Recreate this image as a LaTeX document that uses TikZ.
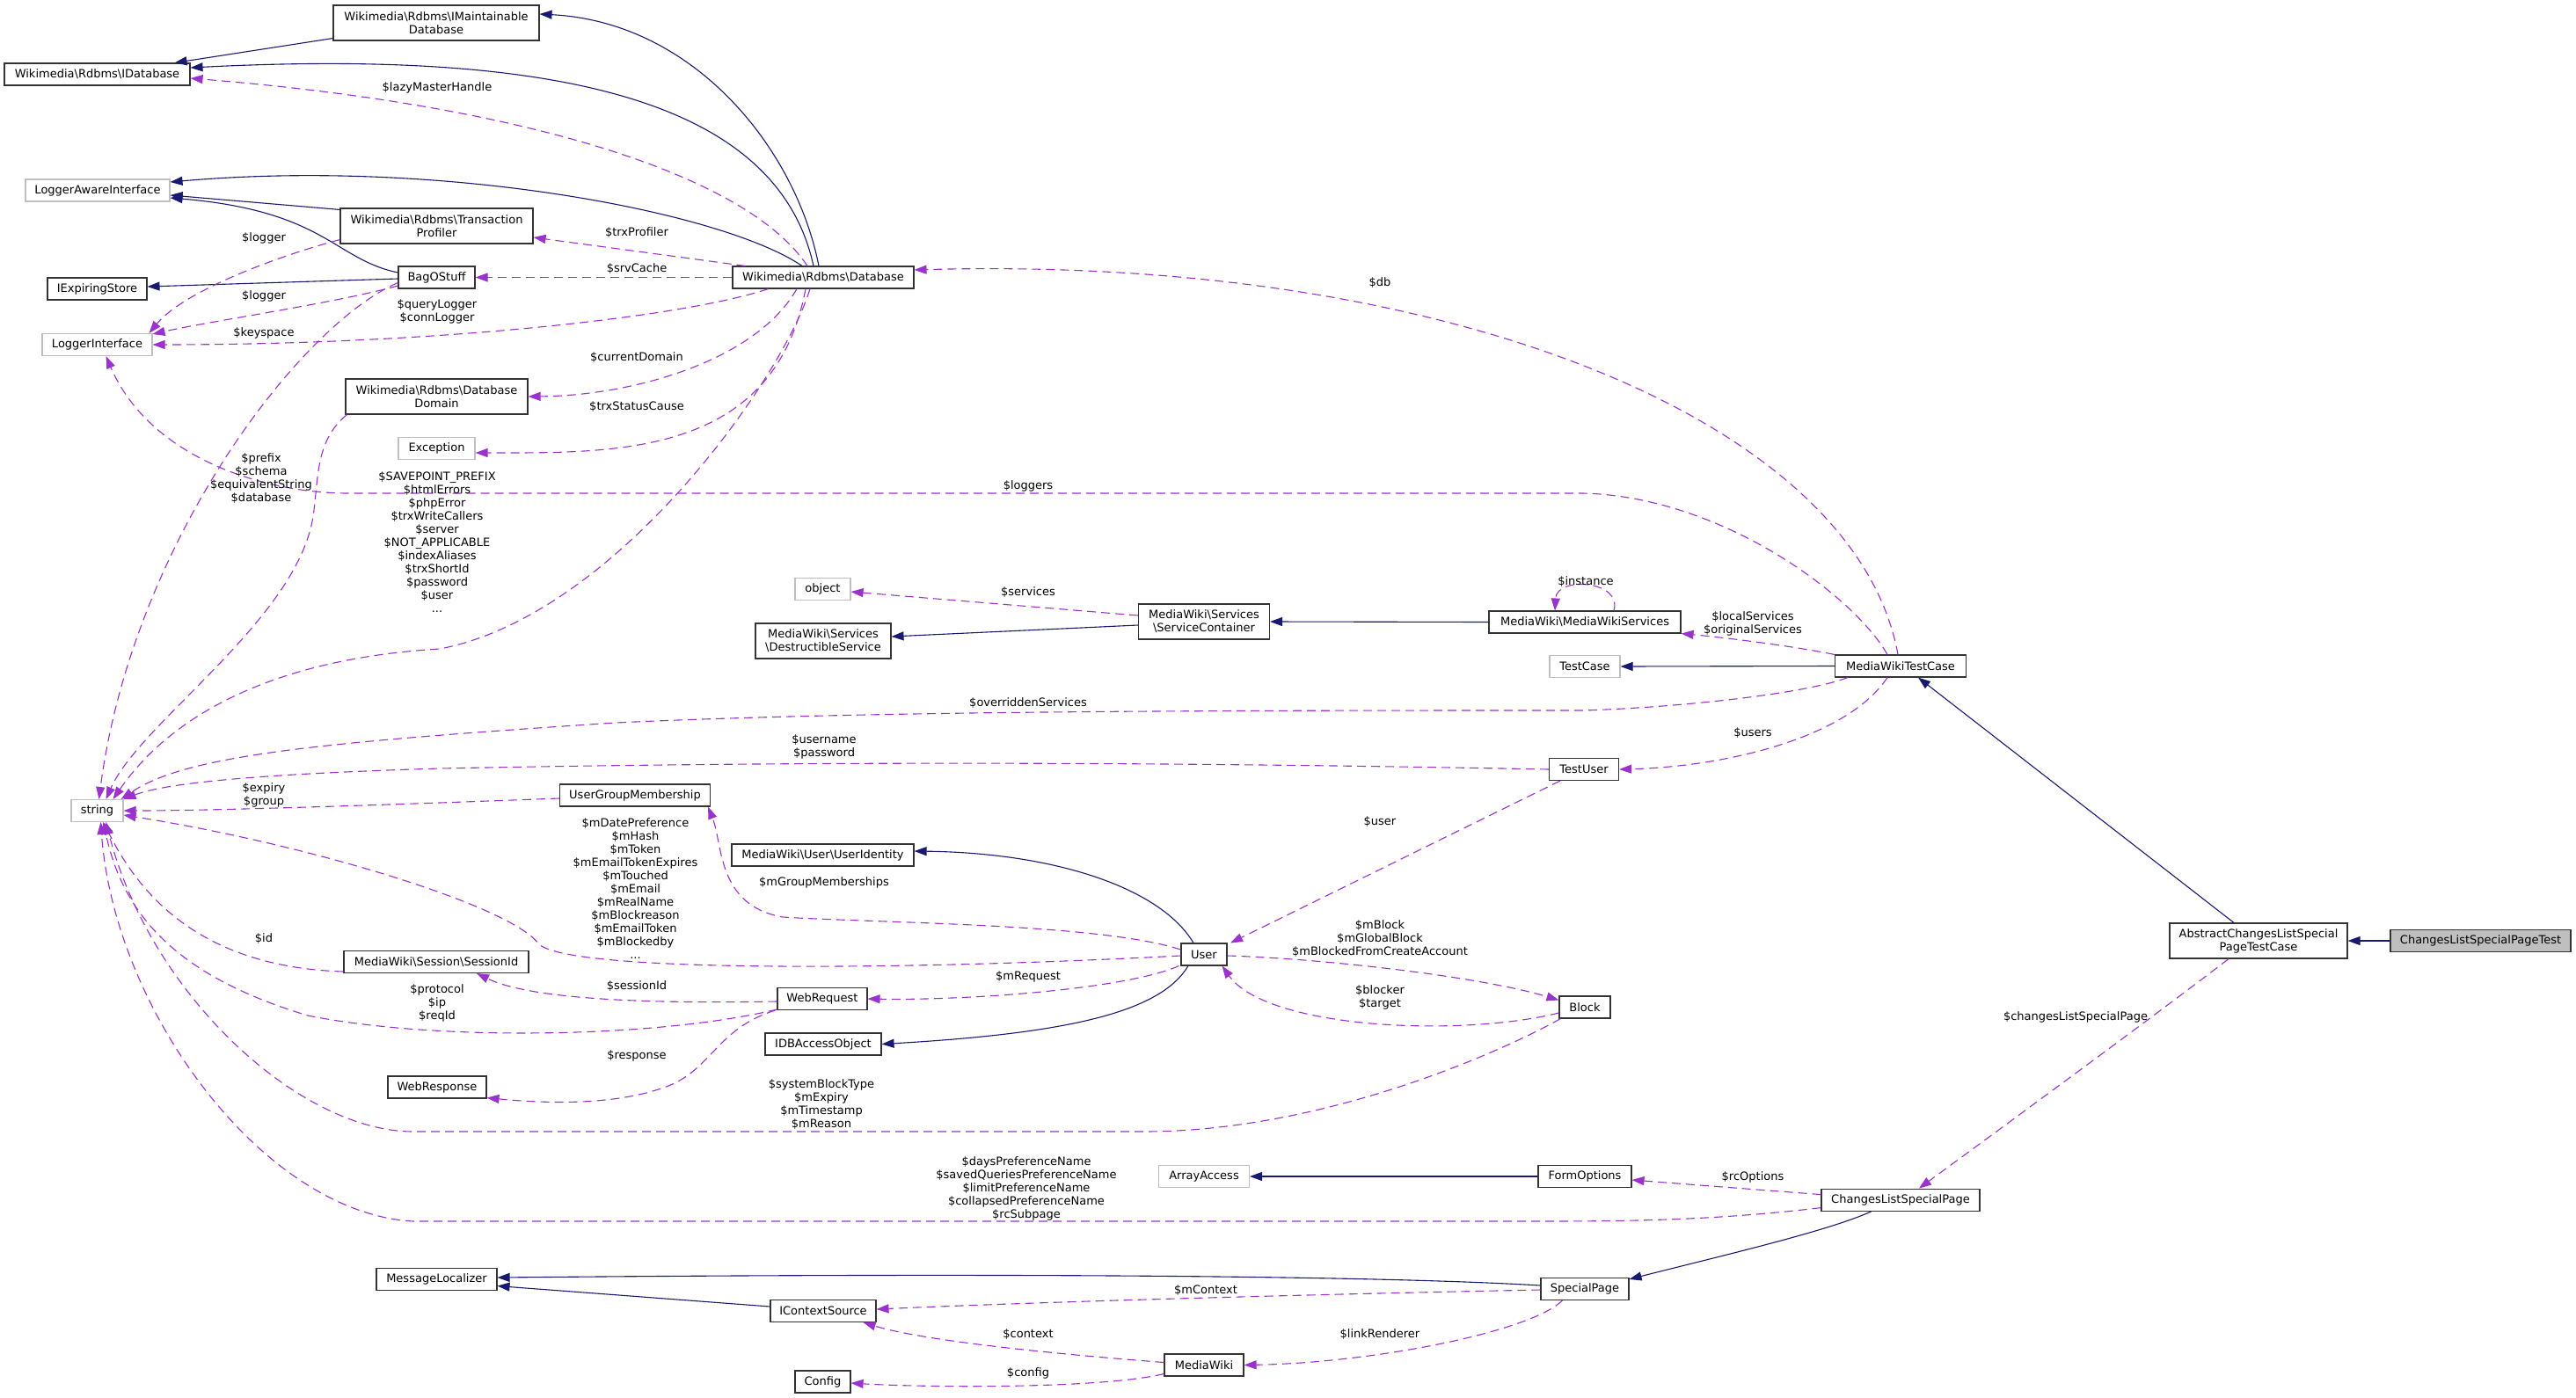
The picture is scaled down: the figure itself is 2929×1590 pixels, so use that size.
\documentclass[tikz,border=0pt]{standalone}
\usepackage{fontspec}
\setmainfont{DejaVu Sans}
\usetikzlibrary{arrows.meta}
\definecolor{navyc}{HTML}{191970}
\definecolor{purp}{HTML}{9A32CD}
\definecolor{extgray}{HTML}{BFBFBF}
\newcommand\dgfont{\fontsize{13}{15}\selectfont}
\tikzset{
 cls/.style={draw=black!80, line width=1.1pt, fill=white, minimum height=25pt, inner sep=0pt, align=center, font=\dgfont},
 ext/.style={cls, draw=extgray},
 inh/.style={draw=navyc, line width=1.1pt, -{Triangle[length=14pt,width=10pt]}},
 use/.style={draw=purp, line width=1.1pt, dash pattern=on 10pt off 6pt, -{Triangle[length=14pt,width=10pt]}},
 lab/.style={font=\dgfont, align=center, inner sep=0pt},
}
\begin{document}
\begin{tikzpicture}[x=1pt,y=-1pt]
\useasboundingbox[fill=white] (0,0) rectangle (2929,1590);
% nodes
\node[cls, minimum width=234pt, minimum height=40pt] (IMaint) at (496,26) {Wikimedia\textbackslash{}Rdbms\textbackslash{}IMaintainable\\Database};
\node[cls, minimum width=211pt] (IDatabase) at (110.5,84.5) {Wikimedia\textbackslash{}Rdbms\textbackslash{}IDatabase};
\node[ext, minimum width=164pt] (LoggerAware) at (111,216.5) {LoggerAwareInterface};
\node[cls, minimum width=219pt, minimum height=40pt] (TransProf) at (496.5,257) {Wikimedia\textbackslash{}Rdbms\textbackslash{}Transaction\\Profiler};
\node[cls, minimum width=87pt] (BagOStuff) at (496.5,315.5) {BagOStuff};
\node[cls, minimum width=113pt] (IExpiring) at (110.5,328.5) {IExpiringStore};
\node[ext, minimum width=125pt] (LoggerIface) at (110.5,392) {LoggerInterface};
\node[cls, minimum width=206pt] (Database) at (936,315.5) {Wikimedia\textbackslash{}Rdbms\textbackslash{}Database};
\node[cls, minimum width=207pt, minimum height=40pt] (DBDomain) at (496.5,451) {Wikimedia\textbackslash{}Rdbms\textbackslash{}Database\\Domain};
\node[ext, minimum width=87pt] (Exception) at (496.5,510) {Exception};
\node[ext, minimum width=63pt] (object) at (935.5,670) {object};
\node[cls, minimum width=154pt, minimum height=40pt] (Destructible) at (936,729) {MediaWiki\textbackslash{}Services\\\textbackslash{}DestructibleService};
\node[cls, minimum width=149pt, minimum height=40pt] (ServiceCont) at (1369,707) {MediaWiki\textbackslash{}Services\\\textbackslash{}ServiceContainer};
\node[cls, minimum width=218pt] (MWServices) at (1802,707.5) {MediaWiki\textbackslash{}MediaWikiServices};
\node[ext, minimum width=80pt] (TestCase) at (1802,758) {TestCase};
\node[cls, minimum width=149pt] (MWTestCase) at (2161,757.5) {MediaWikiTestCase};
\node[cls, minimum width=79pt] (TestUser) at (1801,875) {TestUser};
\node[ext, minimum width=59pt] (string) at (110.5,922) {string};
\node[cls, minimum width=171pt] (UGM) at (722,904.5) {UserGroupMembership};
\node[cls, minimum width=207pt] (UserIdentity) at (935.5,972.5) {MediaWiki\textbackslash{}User\textbackslash{}UserIdentity};
\node[cls, minimum width=52pt] (User) at (1369,1085.5) {User};
\node[cls, minimum width=210pt] (SessionId) at (496,1094) {MediaWiki\textbackslash{}Session\textbackslash{}SessionId};
\node[cls, minimum width=102pt] (WebRequest) at (935,1136) {WebRequest};
\node[cls, minimum width=58pt] (Block) at (1802,1145.5) {Block};
\node[cls, minimum width=132pt] (IDBAccess) at (936,1187.5) {IDBAccessObject};
\node[cls, minimum width=112pt] (WebResponse) at (497,1236.5) {WebResponse};
\node[ext, minimum width=103pt] (ArrayAccess) at (1369,1338) {ArrayAccess};
\node[cls, minimum width=106pt] (FormOptions) at (1802,1338) {FormOptions};
\node[cls, minimum width=180pt] (CLSP) at (2161,1364.6) {ChangesListSpecialPage};
\node[cls, minimum width=202pt, minimum height=40pt] (AbstractCLSPTC) at (2568,1070) {AbstractChangesListSpecial\\PageTestCase};
\node[cls, fill=extgray, minimum width=205pt] (CLSPTest) at (2820.5,1070) {ChangesListSpecialPageTest};
\node[cls, minimum width=137pt] (MessageLocalizer) at (496.5,1455) {MessageLocalizer};
\node[cls, minimum width=100pt] (SpecialPage) at (1802,1466) {SpecialPage};
\node[cls, minimum width=120pt] (IContextSource) at (936,1491) {IContextSource};
\node[cls, minimum width=90pt] (MediaWiki) at (1369,1552.5) {MediaWiki};
\node[cls, minimum width=63pt] (Config) at (935.5,1571.5) {Config};
% inheritance
\draw[inh] ([xshift=-5pt]Database.north) .. controls (905,170) and (790,25) .. ([yshift=10pt]IMaint.east);
\draw[inh] ([xshift=-11pt]Database.north) .. controls (885,120) and (650,55) .. ([yshift=7.5pt]IDatabase.east);
\draw[inh] ([yshift=3pt]IMaint.south west) -- ([xshift=-18pt]IDatabase.north east);
\draw[inh] ([xshift=-24pt]Database.north) .. controls (820,240) and (500,180) .. ([yshift=9.5pt]LoggerAware.east);
\draw[inh] ([yshift=-2pt]TransProf.north west) -- ([yshift=-5.5pt]LoggerAware.east);
\draw[inh] ([yshift=5.5pt]BagOStuff.west) .. controls (380,295) and (370,240) .. ([yshift=-8.5pt]LoggerAware.east);
\draw[inh] ([yshift=-1.5pt]BagOStuff.west) -- ([yshift=2.5pt]IExpiring.east);
\draw[inh] ([yshift=-4pt]ServiceCont.west) -- ([yshift=5pt]Destructible.east);
\draw[inh] (MWServices.west) -- (ServiceCont.east);
\draw[inh] (MWTestCase.west) -- (TestCase.east);
\draw[inh] ([xshift=-28pt]AbstractCLSPTC.north) -- ([xshift=20pt]MWTestCase.south);
\draw[inh] (CLSPTest.west) -- (AbstractCLSPTC.east);
\draw[inh] ([xshift=-12pt]User.north) .. controls (1320,1010) and (1200,970) .. ([yshift=4.5pt]UserIdentity.east);
\draw[inh] ([xshift=-18pt]User.south) .. controls (1320,1150) and (1220,1175) .. (IDBAccess.east);
\draw[inh] (FormOptions.west) -- (ArrayAccess.east);
\draw[inh] ([xshift=-33pt]CLSP.south) .. controls (2080,1400) and (1950,1430) .. ([yshift=-2pt]SpecialPage.north east);
\draw[inh] ([yshift=4pt]SpecialPage.west) .. controls (1550,1450) and (1100,1448) .. ([yshift=2pt]MessageLocalizer.east);
\draw[inh] ([yshift=5pt]IContextSource.west) -- ([yshift=5.5pt]MessageLocalizer.south east);
% usage
\draw[use] ([xshift=-18pt]Database.north) .. controls (850,200) and (600,120) .. ([yshift=-4.5pt]IDatabase.east);
\draw[use] ([xshift=15pt]Database.north west) -- ([yshift=-13pt]TransProf.east);
\draw[use] (Database.west) -- (BagOStuff.east);
\draw[use] ([yshift=5pt]TransProf.south west) .. controls (320,290) and (210,330) .. ([xshift=-4pt]LoggerIface.north east);
\draw[use] ([yshift=-9.5pt]BagOStuff.west) .. controls (380,345) and (240,365) .. ([yshift=12pt]LoggerIface.east);
\draw[use] ([xshift=41pt]Database.south west) .. controls (780,360) and (500,392) .. (LoggerIface.east);
\draw[use] ([yshift=-6pt]BagOStuff.west) .. controls (340,370) and (150,620) .. ([xshift=2pt]string.north);
\draw[use] ([xshift=-30pt]Database.south) .. controls (860,410) and (720,450) .. (DBDomain.east);
\draw[use] ([xshift=-20pt]Database.south) .. controls (880,520) and (700,515) .. ([yshift=-5pt]Exception.east);
\draw[use] ([xshift=-15pt]Database.south) .. controls (890,430) and (700,700) .. (500,738) .. controls (300,750) and (190,820) .. ([xshift=18pt]string.north);
\draw[use] ([xshift=2pt]DBDomain.south west) .. controls (360,500) and (362,540) .. (357,580) .. controls (345,700) and (160,820) .. ([xshift=10pt]string.north);
\draw[use] ([xshift=-15pt]MWTestCase.north) .. controls (2110,680) and (1960,565) .. (1800,561) -- (400,561) .. controls (300,562) and (170,520) .. ([xshift=10pt]LoggerIface.south);
\draw[use] ([xshift=-3pt]MWTestCase.north) .. controls (2110,480) and (1650,290) .. ([yshift=8.5pt]Database.east);
\draw[use] ([yshift=7pt]ServiceCont.west) -- ([yshift=-3pt]object.east);
\draw[use] ([xshift=33pt]MWServices.north) .. controls (1845,660) and (1770,655) .. ([xshift=-34pt]MWServices.north);
\draw[use] (MWTestCase.north west) .. controls (2040,735) and (1960,725) .. (MWServices.south east);
\draw[use] ([xshift=15pt]MWTestCase.south west) .. controls (2050,790) and (1900,805) .. (1800,808) .. controls (1400,808) and (1000,808) .. (700,822) .. controls (350,845) and (210,860) .. ([xshift=-3pt]string.north east);
\draw[use] ([xshift=-15pt]MWTestCase.south) .. controls (2100,840) and (1960,872) .. (TestUser.east);
\draw[use] (TestUser.west) .. controls (1300,866) and (900,866) .. (500,874) .. controls (300,880) and (190,890) .. (string.north east);
\draw[use] ([xshift=13pt]TestUser.south west) -- ([xshift=3.5pt]User.north east);
\draw[use] ([yshift=-3.5pt]UGM.west) .. controls (450,915) and (250,922) .. (string.east);
\draw[use] ([yshift=-1.5pt]User.west) .. controls (1000,1105) and (640,1105) .. (612,1073) .. controls (580,1030) and (350,960) .. ([yshift=-5pt]string.east);
\draw[use] ([yshift=5.5pt]User.west) .. controls (1250,1050) and (1000,1050) .. (890,1043) .. controls (815,1030) and (822,960) .. ([xshift=-3pt]UGM.south east);
\draw[use] ([xshift=-2pt]User.south west) .. controls (1280,1125) and (1100,1138) .. (WebRequest.east);
\draw[use] ([yshift=-1.5pt]User.east) .. controls (1500,1090) and (1680,1110) .. ([yshift=-5pt]Block.north west);
\draw[use] ([yshift=-6.5pt]Block.west) .. controls (1660,1180) and (1440,1170) .. ([xshift=-6pt]User.south east);
\draw[use] ([yshift=-3pt]WebRequest.west) .. controls (720,1142) and (600,1135) .. ([xshift=46pt]SessionId.south);
\draw[use] ([yshift=-12pt]WebRequest.west) .. controls (750,1180) and (500,1185) .. (350,1155) .. controls (200,1110) and (140,1040) .. ([xshift=7pt]string.south);
\draw[use] ([yshift=-11pt]SessionId.west) .. controls (230,1100) and (160,1020) .. ([xshift=7pt]string.south);
\draw[use] ([xshift=-2pt]WebRequest.south west) .. controls (815,1170) and (810,1215) .. (760,1235) .. controls (700,1258) and (620,1255) .. ([yshift=1pt]WebResponse.south east);
\draw[use] ([xshift=2pt]Block.south west) .. controls (1700,1200) and (1500,1287) .. (1300,1287) -- (470,1287) .. controls (340,1287) and (170,1130) .. ([xshift=10pt]string.south);
\draw[use] ([yshift=-9pt]CLSP.west) .. controls (1950,1388) and (1850,1389) .. (1750,1389) -- (470,1389) .. controls (300,1380) and (130,1150) .. ([xshift=4pt]string.south);
\draw[use] ([yshift=6pt]CLSP.west) -- ([yshift=-4pt]FormOptions.east);
\draw[use] ([xshift=-34pt]AbstractCLSPTC.south) .. controls (2450,1155) and (2300,1265) .. ([xshift=21pt]CLSP.north);
\draw[use] ([yshift=-1pt]SpecialPage.west) .. controls (1500,1472) and (1200,1480) .. ([yshift=2pt]IContextSource.east);
\draw[use] ([xshift=25pt]SpecialPage.south west) .. controls (1740,1515) and (1560,1550) .. (MediaWiki.east);
\draw[use] ([yshift=3pt]MediaWiki.west) .. controls (1200,1540) and (1050,1525) .. ([xshift=-15pt]IContextSource.south east);
\draw[use] ([yshift=-10pt]MediaWiki.west) .. controls (1250,1580) and (1050,1578) .. ([yshift=-1.5pt]Config.east);
% labels
\node[lab] (l1) at (497,100) {\$lazyMasterHandle};
\node[lab] (l2) at (724,265) {\$trxProfiler};
\node[lab] (l3) at (724,306) {\$srvCache};
\node[lab] (l4) at (300,271) {\$logger};
\node[lab] (l5) at (300,337) {\$logger};
\node[lab] (l6) at (497,354.5) {\$queryLogger\\\$connLogger};
\node[lab] (l7) at (300,379) {\$keyspace};
\node[lab] (l8) at (724,407) {\$currentDomain};
\node[lab] (l9) at (724,463) {\$trxStatusCause};
\node[lab] (l10) at (297,544) {\$prefix\\\$schema\\\$equivalentString\\\$database};
\node[lab] (l11) at (497,616.5) {\$SAVEPOINT\_PREFIX\\\$htmlErrors\\\$phpError\\\$trxWriteCallers\\\$server\\\$NOT\_APPLICABLE\\\$indexAliases\\\$trxShortId\\\$password\\\$user\\...};
\node[lab] (l12) at (1169,553) {\$loggers};
\node[lab] (l13) at (1569,322) {\$db};
\node[lab] (l14) at (1169,674) {\$services};
\node[lab] (l15) at (1803,662) {\$instance};
\node[lab] (l16) at (1993,709) {\$localServices\\\$originalServices};
\node[lab] (l17) at (1169,800) {\$overriddenServices};
\node[lab] (l18) at (1993,834) {\$users};
\node[lab] (l19) at (937,849.5) {\$username\\\$password};
\node[lab] (l20) at (1569,935) {\$user};
\node[lab] (l21) at (300,904) {\$expiry\\\$group};
\node[lab] (l22) at (722.5,1011) {\$mDatePreference\\\$mHash\\\$mToken\\\$mEmailTokenExpires\\\$mTouched\\\$mEmail\\\$mRealName\\\$mBlockreason\\\$mEmailToken\\\$mBlockedby\\...};
\node[lab] (l23) at (937,1004) {\$mGroupMemberships};
\node[lab] (l24) at (1569,1068) {\$mBlock\\\$mGlobalBlock\\\$mBlockedFromCreateAccount};
\node[lab] (l25) at (1169,1111) {\$mRequest};
\node[lab] (l26) at (1569,1134.5) {\$blocker\\\$target};
\node[lab] (l27) at (300,1068) {\$id};
\node[lab] (l28) at (724,1122) {\$sessionId};
\node[lab] (l29) at (497,1140.5) {\$protocol\\\$ip\\\$reqId};
\node[lab] (l30) at (724,1201) {\$response};
\node[lab] (l31) at (934,1256.5) {\$systemBlockType\\\$mExpiry\\\$mTimestamp\\\$mReason};
\node[lab] (l32) at (1167,1351.5) {\$daysPreferenceName\\\$savedQueriesPreferenceName\\\$limitPreferenceName\\\$collapsedPreferenceName\\\$rcSubpage};
\node[lab] (l33) at (1993,1339) {\$rcOptions};
\node[lab] (l34) at (2360,1156.6) {\$changesListSpecialPage};
\node[lab] (l35) at (1371,1467) {\$mContext};
\node[lab] (l36) at (1569,1517) {\$linkRenderer};
\node[lab] (l37) at (1169,1517) {\$context};
\node[lab] (l38) at (1169,1562) {\$config};
\end{tikzpicture}
\end{document}
